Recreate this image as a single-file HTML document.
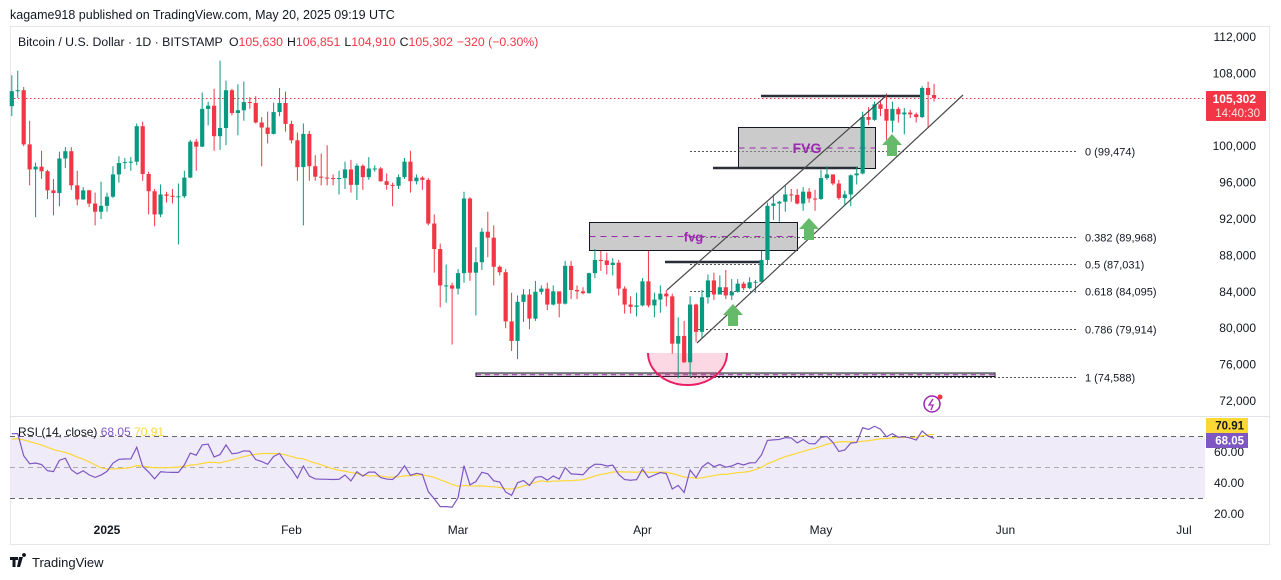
<!DOCTYPE html>
<html><head><meta charset="utf-8">
<style>
html,body{margin:0;padding:0;background:#fff;width:1281px;height:580px;overflow:hidden;font-family:"Liberation Sans",Arial,sans-serif;}
svg text{font-family:"Liberation Sans",Arial,sans-serif;}
</style></head>
<body>
<svg id="c" width="1281" height="580" viewBox="0 0 1281 580" xmlns="http://www.w3.org/2000/svg">
  <text x="10" y="19" font-size="12.5" fill="#131722">kagame918 published on TradingView.com, May 20, 2025 09:19 UTC</text>
  <rect x="10.5" y="26.5" width="1259" height="518" fill="none" stroke="#e6e7ea"/>
  <text x="18" y="46" font-size="12.3" fill="#131722">Bitcoin / U.S. Dollar · 1D · BITSTAMP <tspan fill="#131722" dx="3">O</tspan><tspan fill="#f23645">105,630</tspan><tspan dx="4">H</tspan><tspan fill="#f23645">106,851</tspan><tspan dx="4">L</tspan><tspan fill="#f23645">104,910</tspan><tspan dx="4">C</tspan><tspan fill="#f23645">105,302</tspan><tspan dx="4" fill="#f23645">−320 (−0.30%)</tspan></text>
  <line x1="10" y1="416.5" x2="1270" y2="416.5" stroke="#e0e3eb"/>
  <g id="ann"></g>
  <g id="candles"></g>
  <g id="rsi"></g>
  <g id="axes"></g>
  <g>
    <path d="M10 557h8v3h-2.5v7h-3v-7H10z M19 557h4l-3 10h-3z M24 557a2 2 0 1 1 0.01 0z" fill="#131722"/>
    <text x="32" y="567" font-size="13" fill="#131722">TradingView</text>
  </g>
</svg>
<script>
const firstOpen = 104400;
const closes = [106050,106150,100200,97450,97750,97250,95150,94850,98650,99450,95700,94150,95150,93700,92800,93450,
94450,96900,98150,98250,98300,102200,96950,95050,92500,94700,94550,94500,94500,96550,100500,99950,104100,104450,101100,102000,106150,103650,103950,104850,104750,102600,102050,101350,103750,104750,102450,
100650,97700,101350,97800,96650,96550,96500,96450,96500,97450,95750,97850,96600,97550,97550,96150,95750,95650,96600,98300,96150,96550,96300,91500,88700,84700,84700,84350,
86050,94250,86100,87250,90600,89950,86750,86150,80750,78600,82900,83700,81050,84000,84350,82600,84050,82700,86850,84200,84050,83850,86050,87500,87450,86950,87200,84350,82600,82350,82500,
85150,82500,83150,83800,83500,78300,79150,76250,82600,79600,83400,85250,83700,84500,83600,84000,84900,84400,85050,85100,87500,93450,93700,93900,94700,94650,93700,95000,94250,94200,
96500,96900,95900,94300,94700,96800,97000,103200,102900,104600,104100,102800,104100,103500,103700,103500,103200,106400,105630,105302];
const highs = [107800,108300,106500,102800,98200,99500,97400,96400,99400,99900,99900,97300,95500,95200,94900,96100,
94900,97800,98900,98700,98800,102500,102700,97200,95300,95800,95000,95300,95900,97300,100700,100800,105900,104900,106300,109400,107200,106300,106800,107100,105400,105500,103200,103800,104800,106400,106000,
102800,101500,102500,101700,99000,99200,100100,96900,97300,98300,98500,98100,98000,98800,97900,97700,97000,96000,96900,98700,99500,96900,96700,96500,92500,89300,87000,85000,
86500,95000,94400,88900,91000,92800,91300,86900,86500,83900,83600,84300,84300,85200,84700,85000,84700,84000,87400,87400,84700,84500,86100,88700,88500,88300,87700,87500,84600,83500,83900,
85500,88500,83900,84700,84200,83800,81200,80800,83500,82700,84200,85900,86100,85800,86400,85400,85400,85100,85600,85300,88500,93800,94700,94000,95700,95300,95300,95500,95400,95200,
97400,97800,96900,96300,95100,96900,97700,103800,104300,104900,105000,105800,104900,104300,104200,104000,103700,106600,107100,106851];
const lows = [103300,105300,100000,95700,92200,96400,94200,92400,93400,97600,95200,93500,94100,93300,91300,92000,
92800,94300,96000,97500,97300,97900,96200,92500,91200,92200,93800,93700,89200,94300,96500,97300,99900,102300,99500,99600,100100,103400,101200,102800,104100,102500,97800,100300,101300,103300,101600,
100300,96200,91300,96200,96200,95700,95700,95700,94700,95300,94900,94100,95200,96300,97200,96100,95200,93400,95300,96400,94900,95800,95200,91300,86100,82300,82800,78200,
83700,85000,85200,81400,86400,87800,84700,85800,80000,77500,76600,80700,79900,80800,83700,82000,82500,81200,82600,83200,83200,83700,83800,85500,86300,85900,85800,83600,81600,81600,81300,
82400,82300,81200,81700,82400,77200,74500,76200,74600,78500,78900,82700,83100,83700,83200,83100,83900,84200,84300,83900,85100,87000,91900,91700,92800,93900,93600,92900,93800,92900,
94100,96300,95700,94100,93500,93400,95800,96900,102300,102800,103300,100700,101500,102600,101300,103100,102600,103100,102000,104910];
const priceTicks = [112000,108000,100000,96000,92000,88000,84000,80000,76000,72000];
const rsiTicks = [60,40,20];
const monthLabels = ["2025","Feb","Mar","Apr","May","Jun","Jul"];
const monthDayIdx = [16,47,75,106,136,167,197];
const fibLevels = [0,0.382,0.5,0.618,0.786,1];
const fibPrices = [99474,89968,87031,84095,79914,74588];

const NS="http://www.w3.org/2000/svg";
const xI = i => 11.8 + i*5.95;
const yP = p => 37 + (112000-p)*0.0091;
const yR = v => 452 + (60-v)*1.55;
function mk(tag, attrs, parent, text){const e=document.createElementNS(NS,tag);for(const k in attrs)e.setAttribute(k,attrs[k]);if(text!==undefined)e.textContent=text;parent.appendChild(e);return e;}
const svg=document.getElementById('c');
const cg=document.getElementById('candles');
const ann=document.getElementById('ann');
const ax=document.getElementById('axes');
const rg=document.getElementById('rsi');

fibLevels.forEach((f,k)=>{
  const y=Math.round(yP(fibPrices[k]))+0.5;
  const l=mk('line',{x1:690,y1:y,x2:1078,y2:y,stroke:'#555','stroke-width':1,'stroke-dasharray':'2,2'},ann);
  
  
  const t=mk('text',{x:1085,y:y+4,'font-size':11,fill:'#131722'},ann,f+' ('+fibPrices[k].toLocaleString('en-US')+')');
  
  
});
const sup=mk('g',{},ann);


mk('rect',{x:476,y:373,width:519,height:3.5,fill:'#d6d6d6',stroke:'#131722','stroke-width':1},sup);
mk('line',{x1:476,y1:374.8,x2:995,y2:374.8,stroke:'#9c27b0','stroke-width':1,'stroke-dasharray':'5,4'},sup);
function box(x1,y1,x2,y2,label,name,fs){
  const g=mk('g',{},ann);
  
  
  mk('rect',{x:x1,y:y1,width:x2-x1,height:y2-y1,fill:'rgba(160,160,160,0.55)',stroke:'#131722','stroke-width':1},g);
  const ym=(y1+y2)/2;
  mk('line',{x1:x1,y1:ym,x2:x2,y2:ym,stroke:'#9c27b0','stroke-width':1,'stroke-dasharray':'6,5'},g);
  mk('text',{x:(x1+x2)/2,y:ym+5,'font-size':fs,fill:'#9c27b0','text-anchor':'middle','font-weight':'bold'},g,label);
}
box(589.5,222.5,797.5,250.5,'fvg','fvg-box-lower',13);
box(738.5,127.5,875.5,168.5,'FVG','fvg-box-upper',14);
[[761,96,920],[713,168,858],[665,262,762]].forEach(a=>{
  const l=mk('line',{x1:a[0],y1:a[1],x2:a[2],y2:a[1],stroke:'#2a2e39','stroke-width':2.5},ann);
  
  
});
const pc=mk('path',{d:'M648,353 A39.5,32 0 0 0 727,353 Z',fill:'rgba(242,54,120,0.2)'},ann);


mk('path',{d:'M648,353 A39.5,32 0 0 0 727,353',fill:'none',stroke:'#e91e63','stroke-width':2},ann);
const cp=mk('line',{x1:10,y1:98.5,x2:1205,y2:98.5,stroke:'#f23645','stroke-width':1,'stroke-dasharray':'1.5,2.5'},ann);



let prev=firstOpen;
closes.forEach((c,i)=>{
  const o=prev; prev=c;
  const col=c>=o?'#089981':'#f23645';
  const x=xI(i);
  const g=mk('g',{},cg);
  
  
  mk('line',{x1:x,y1:yP(highs[i]),x2:x,y2:yP(lows[i]),stroke:col,'stroke-width':1},g);
  const yt=yP(Math.max(o,c)), yb=yP(Math.min(o,c));
  mk('rect',{x:x-2.1,y:yt,width:4.2,height:Math.max(1,yb-yt),fill:col},g);
});

[[667,290,887,95],[697,343,963,95]].forEach(a=>{
  const l=mk('line',{x1:a[0],y1:a[1],x2:a[2],y2:a[3],stroke:'#4a4a4a','stroke-width':1.2},svg);
  
  
});
[[733,304],[809,218],[892,134]].forEach(a=>{
  const [cx,ty]=a;
  const p=mk('path',{d:`M${cx},${ty} L${cx+10},${ty+11} L${cx+5},${ty+11} L${cx+5},${ty+22} L${cx-5},${ty+22} L${cx-5},${ty+11} L${cx-10},${ty+11} Z`,fill:'#66bb6a'},svg);
  
  
});
const ic=mk('g',{},svg);


mk('circle',{cx:932,cy:404,r:8,fill:'none',stroke:'#9c27b0','stroke-width':1.5},ic);
mk('path',{d:'M933,399 l-4,6 h4 l-2,5',fill:'none',stroke:'#9c27b0','stroke-width':1.3},ic);
mk('circle',{cx:940,cy:397,r:2.5,fill:'#f23645'},ic);

priceTicks.forEach(p=>{
  const t=mk('text',{x:1256,y:yP(p)+4,'font-size':12,fill:'#131722','text-anchor':'end'},ax,p.toLocaleString('en-US'));
  
  
});
const pl=mk('g',{},ax);


mk('rect',{x:1206,y:91,width:60,height:30,fill:'#f23645',rx:1},pl);
mk('text',{x:1256,y:103,'font-size':12,fill:'#fff','text-anchor':'end','font-weight':'bold'},pl,closes[closes.length-1].toLocaleString('en-US'));
mk('text',{x:1260,y:117,'font-size':11.5,fill:'#fde0e3','text-anchor':'end'},pl,'14:40:30');

const rsi=[]; let ag=1400, al=600;
for(let i=0;i<closes.length;i++){
  const ch=closes[i]-(i?closes[i-1]:firstOpen);
  ag=(ag*13+Math.max(ch,0))/14; al=(al*13+Math.max(-ch,0))/14;
  rsi.push(100-100/(1+ag/al));
}
const rsiMa=rsi.map((v,i)=>{const s=rsi.slice(Math.max(0,i-13),i+1);return (s.reduce((a,b)=>a+b,0)+Math.max(0,14-s.length)*68)/14;});
const bg=mk('rect',{x:10,y:yR(70),width:1195,height:yR(30)-yR(70),fill:'#efebf8'},rg);


[70,50,30].forEach(v=>{
  const l=mk('line',{x1:10,y1:yR(v),x2:1205,y2:yR(v),stroke:v==50?'#aaa':'#666','stroke-width':1,'stroke-dasharray':'5,4'},rg);
  
  
});
const ma=mk('polyline',{points:rsiMa.map((v,i)=>xI(i)+','+yR(v)).join(' '),fill:'none',stroke:'#fdd835','stroke-width':1.2},rg);


const rl=mk('polyline',{points:rsi.map((v,i)=>xI(i)+','+yR(v)).join(' '),fill:'none',stroke:'#7e57c2','stroke-width':1.2},rg);


const rt=mk('text',{x:18,y:436,'font-size':12,fill:'#131722'},rg,'RSI (14, close) ');


mk('tspan',{fill:'#7e57c2'},rt,'68.05 ');
mk('tspan',{fill:'#fdd835'},rt,'70.91');
rsiTicks.forEach(v=>{
  const t=mk('text',{x:1244,y:yR(v)+4,'font-size':12,fill:'#131722','text-anchor':'end'},ax,v.toFixed(2));
  
  
});
[[418,'#fdd835','70.91','#131722'],[433,'#7e57c2','68.05','#fff']].forEach(a=>{
  const g=mk('g',{},ax);
  
  
  mk('rect',{x:1206,y:a[0],width:42,height:15,fill:a[1]},g);
  mk('text',{x:1244,y:a[0]+11.5,'font-size':11.5,fill:a[3],'text-anchor':'end','font-weight':'bold'},g,a[2]);
});
monthLabels.forEach((m,k)=>{
  const t=mk('text',{x:xI(monthDayIdx[k]),y:534,'font-size':12,fill:'#131722','text-anchor':'middle','font-weight':k==0?'bold':'normal'},ax,m);
  
  
});
</script>
</body></html>
